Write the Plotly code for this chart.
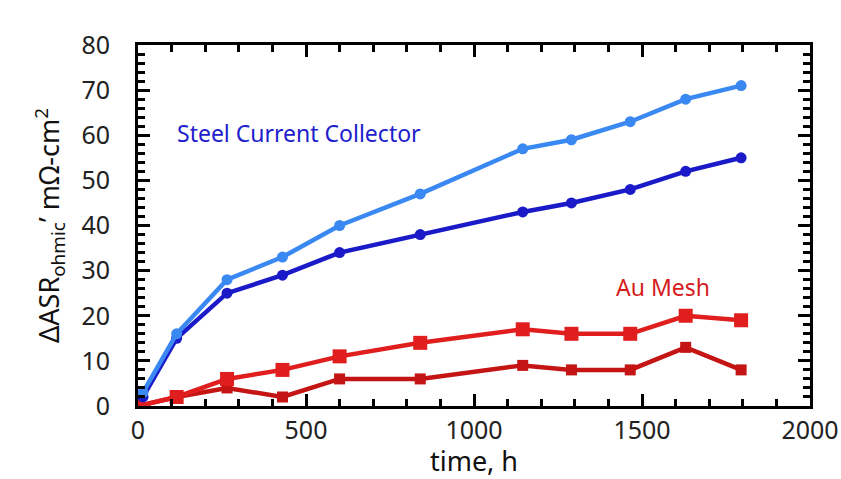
import plotly.graph_objects as go

time_h = [15, 115, 265, 430, 600, 840, 1145, 1290, 1465, 1630, 1795]
steel_a = [3, 16, 28, 33, 40, 47, 57, 59, 63, 68, 71]
steel_b = [2, 15, 25, 29, 34, 38, 43, 45, 48, 52, 55]
time_au = [0, 115, 265, 430, 600, 840, 1145, 1290, 1465, 1630, 1795]
au_a = [0, 2, 6, 8, 11, 14, 17, 16, 16, 20, 19]
au_b = [0, 2, 4, 2, 6, 6, 9, 8, 8, 13, 8]

X_RANGE = [0, 2000]
Y_RANGE = [0, 80]

fig = go.Figure()
fig.add_trace(go.Scatter(x=time_au, y=au_b, mode="lines+markers",
                         line=dict(color="#c41414", width=4.5),
                         marker=dict(symbol="square", size=11, color="#c41414")))
fig.add_trace(go.Scatter(x=time_au, y=au_a, mode="lines+markers",
                         line=dict(color="#e01e1e", width=4.5),
                         marker=dict(symbol="square", size=14, color="#e01e1e")))
fig.add_trace(go.Scatter(x=time_h, y=steel_b, mode="lines+markers",
                         line=dict(color="#1a1ac8", width=4.5),
                         marker=dict(symbol="circle", size=11, color="#1a1ac8")))
fig.add_trace(go.Scatter(x=time_h, y=steel_a, mode="lines+markers",
                         line=dict(color="#3a88f2", width=4.5),
                         marker=dict(symbol="circle", size=11, color="#3a88f2")))

fig.add_annotation(x=110, y=60.4, xref="x", yref="y", xanchor="left", yanchor="middle",
                   text="Steel Current Collector", showarrow=False,
                   font=dict(size=23, color="#2020cc", family="Noto Sans"))
fig.add_annotation(x=1562, y=26.4, xref="x", yref="y", xanchor="center", yanchor="middle",
                   text="Au Mesh", showarrow=False,
                   font=dict(size=23, color="#d41c1c", family="Noto Sans"))

fig.update_xaxes(range=X_RANGE, dtick=500, showline=True, linecolor="black", linewidth=3,
                 mirror="allticks", ticks="inside", ticklen=12, tickwidth=3, tickcolor="#000000",
                 minor=dict(ticks="inside", dtick=100, ticklen=7, tickwidth=2.5, tickcolor="#000000"),
                 showgrid=False, zeroline=False,
                 tickfont=dict(size=25, color="#222", family="Noto Sans"),
                 title=dict(text="time, h", font=dict(size=27, color="#111", family="Noto Sans"), standoff=8))
fig.update_yaxes(range=Y_RANGE, dtick=10, showline=True, linecolor="black", linewidth=3,
                 mirror="allticks", ticks="inside", ticklen=12, tickwidth=3, tickcolor="#000000",
                 minor=dict(ticks="inside", dtick=2, ticklen=7, tickwidth=2.5, tickcolor="#000000"),
                 showgrid=False, zeroline=False,
                 ticklabelstandoff=20,
                 tickfont=dict(size=25, color="#222", family="Noto Sans"),
                 title=dict(text="ΔASR<sub>ohmic</sub>’ mΩ-cm<sup>2</sup>",
                            font=dict(size=27, color="#111", family="Noto Sans"), standoff=14))
fig.update_layout(width=841, height=479,
                  margin=dict(l=138, r=31, t=45, b=73, autoexpand=False),
                  plot_bgcolor="rgba(0,0,0,0)", paper_bgcolor="white", showlegend=False)
fig.write_html("out.html")
